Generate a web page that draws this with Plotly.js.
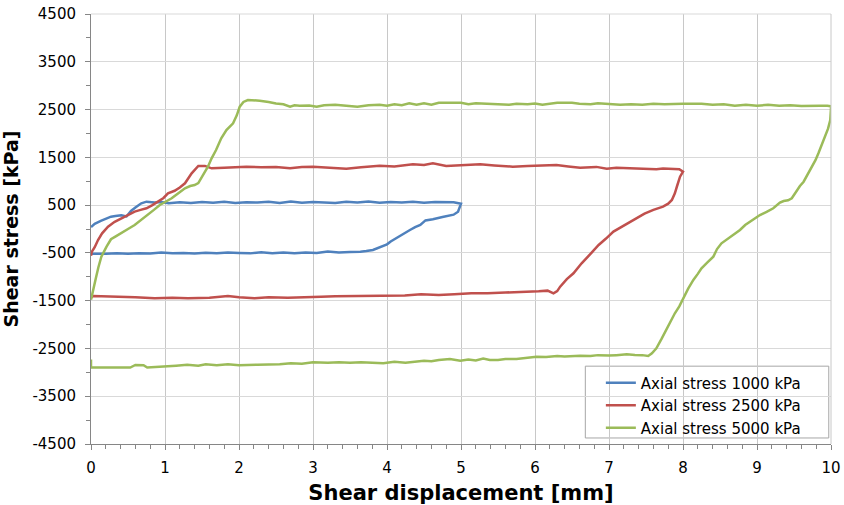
<!DOCTYPE html>
<html>
<head>
<meta charset="utf-8">
<script src="https://cdn.plot.ly/plotly-3.0.1.min.js"></script>
<style>html,body{margin:0;padding:0;background:#fff;}#chart{width:844px;height:505px;}</style>
</head>
<body>
<div id="chart"></div>
<script>
// ---- Data ----
const seriesNames = ["Axial stress 1000 kPa", "Axial stress 2500 kPa", "Axial stress 5000 kPa"];

const blueX = [0, 0.05, 0.14, 0.2, 0.27, 0.33, 0.41, 0.48, 0.54, 0.6, 0.68, 0.75, 0.86, 0.95, 1.05, 1.2, 1.35, 1.5, 1.65, 1.8, 1.95, 2.1, 2.25, 2.4, 2.55, 2.7, 2.85, 3.0, 3.15, 3.3, 3.45, 3.6, 3.75, 3.9, 4.05, 4.2, 4.35, 4.5, 4.65, 4.8, 4.9, 5.0,
  5.0, 4.96, 4.9, 4.85, 4.75, 4.62, 4.52, 4.45, 4.38, 4.31, 4.22, 4.13, 4.05, 4.0, 3.9, 3.81, 3.72, 3.64, 3.5, 3.35, 3.2, 3.05, 2.9, 2.75, 2.6, 2.45, 2.3, 2.15, 2.0, 1.85, 1.7, 1.55, 1.4, 1.25, 1.1, 0.95, 0.8, 0.65, 0.5, 0.35, 0.2, 0.05, 0];
const blueY = [40, 110, 174, 220, 258, 270, 286, 262, 377, 450, 537, 572, 555, 565, 540, 560, 545, 565, 550, 570, 545, 560, 555, 570, 545, 575, 550, 565, 560, 545, 570, 555, 575, 550, 565, 555, 570, 550, 565, 555, 560, 530,
  530, 363, 300, 279, 250, 203, 180, 84, 40, -21, -100, -194, -260, -320, -390, -440, -460, -475, -480, -490, -470, -500, -490, -510, -490, -505, -485, -510, -500, -490, -510, -495, -515, -500, -510, -490, -515, -505, -520, -505, -520, -515, -520];

const redX = [0, 0.01, 0.05, 0.095, 0.15, 0.23, 0.32, 0.41, 0.5, 0.59, 0.67, 0.75, 0.83, 0.91, 0.98, 1.04, 1.13, 1.2, 1.27, 1.36, 1.45, 1.54, 1.63, 1.8, 1.95, 2.1, 2.3, 2.5, 2.69, 2.85, 3.0, 3.2, 3.45, 3.65, 3.9, 4.1, 4.35, 4.5, 4.62, 4.8, 5.0, 5.26, 5.45, 5.7, 5.9, 6.16, 6.29, 6.45, 6.61, 6.83, 6.97, 7.1, 7.28, 7.45, 7.64, 7.73, 7.87, 7.95, 8.0,
  7.96, 7.92, 7.89, 7.85, 7.8, 7.73, 7.6, 7.48, 7.37, 7.25, 7.15, 7.06, 6.96, 6.86, 6.75, 6.63, 6.52, 6.43, 6.34, 6.3, 6.25, 6.17, 6.05, 5.81, 5.6, 5.36, 5.14, 4.91, 4.7, 4.46, 4.24, 3.92, 3.56, 3.3, 3.11, 2.9, 2.66, 2.4, 2.21, 2.0, 1.85, 1.6, 1.31, 1.1, 0.86, 0.6, 0.32, 0.15, 0.03, 0];
const redY = [-560, -480, -380, -230, -90, 50, 150, 224, 300, 363, 400, 433, 500, 572, 650, 747, 800, 870, 957, 1166, 1319, 1320, 1270, 1280, 1295, 1305, 1290, 1300, 1270, 1300, 1305, 1290, 1263, 1290, 1326, 1310, 1354, 1340, 1375, 1320, 1340, 1354, 1330, 1305, 1320, 1326, 1340, 1310, 1283, 1300, 1263, 1280, 1270, 1265, 1250, 1265, 1255, 1250, 1200,
  1095, 900, 747, 607, 530, 467, 400, 320, 224, 120, 15, -55, -200, -335, -520, -718, -927, -1050, -1207, -1300, -1346, -1290, -1305, -1312, -1330, -1346, -1346, -1367, -1380, -1367, -1390, -1395, -1395, -1410, -1416, -1425, -1440, -1430, -1450, -1430, -1400, -1440, -1450, -1440, -1450, -1430, -1416, -1420, -1400, -1437];

const greenX = [0, 0.03, 0.07, 0.1, 0.14, 0.21, 0.27, 0.34, 0.41, 0.5, 0.59, 0.68, 0.77, 0.85, 0.93, 1.01, 1.09, 1.18, 1.27, 1.34, 1.40, 1.45, 1.49, 1.53, 1.58, 1.63, 1.69, 1.76, 1.83, 1.92, 1.97, 2.01, 2.06, 2.12, 2.2, 2.28, 2.4, 2.5, 2.6, 2.69, 2.75, 2.82,
  2.95, 3.05, 3.15, 3.3, 3.45, 3.6, 3.75, 3.9, 4.0, 4.1, 4.2, 4.3, 4.4, 4.5, 4.6, 4.7, 4.85, 5.0, 5.1, 5.2, 5.35, 5.5, 5.65, 5.75, 5.9, 6.0, 6.1, 6.3, 6.5, 6.6, 6.75, 6.85, 7.0, 7.15, 7.3, 7.45, 7.6, 7.75, 8.0, 8.25, 8.4, 8.55, 8.7, 8.85, 9.0, 9.15, 9.3, 9.45, 9.6, 9.75, 9.85, 9.95, 10.0,
  10.0, 9.99, 9.96, 9.92, 9.88, 9.83, 9.79, 9.74, 9.68, 9.63, 9.58, 9.54, 9.47, 9.42, 9.36, 9.31, 9.22, 9.13, 9.04, 8.97, 8.91, 8.84, 8.77, 8.68, 8.6, 8.52, 8.46, 8.41, 8.33, 8.25, 8.2, 8.14, 8.07, 8.0, 7.95, 7.89, 7.83, 7.78, 7.71, 7.64, 7.58, 7.53,
  7.45, 7.35, 7.24, 7.1, 7.0, 6.85, 6.75, 6.61, 6.5, 6.4, 6.3, 6.15, 6.02, 5.9, 5.75, 5.6, 5.5, 5.39, 5.3, 5.2, 5.1, 4.99, 4.85, 4.7, 4.6, 4.5, 4.36, 4.25, 4.1, 3.95, 3.8, 3.65, 3.5, 3.35, 3.2, 3.0, 2.85, 2.7, 2.55, 2.4, 2.25, 2.0, 1.85, 1.7, 1.55, 1.45, 1.3, 1.15, 1.0, 0.88, 0.76, 0.71, 0.6, 0.53, 0.3, 0.1, 0, 0];
const greenY = [-1480, -1250, -1000, -800, -580, -370, -215, -150, -90, 0, 84, 190, 293, 400, 502, 572, 643, 750, 852, 900, 921, 960, 1061, 1150, 1305, 1480, 1654, 1900, 2072, 2212, 2380, 2560, 2660, 2700, 2700, 2685, 2660, 2625, 2610, 2560, 2590, 2580,
  2585, 2560, 2590, 2600, 2580, 2560, 2590, 2600, 2580, 2610, 2590, 2630, 2600, 2630, 2600, 2640, 2640, 2640, 2610, 2630, 2620, 2610, 2600, 2620, 2610, 2625, 2600, 2640, 2640, 2620, 2610, 2630, 2610, 2600, 2610, 2600, 2620, 2610, 2620, 2620, 2600, 2610, 2580, 2600, 2580, 2600, 2580, 2590, 2575, 2570, 2580, 2580, 2570,
  2526, 2280, 2100, 1932, 1760, 1584, 1440, 1305, 1140, 990, 900, 816, 643, 600, 586, 551, 433, 360, 293, 220, 153, 84, -21, -125, -210, -299, -420, -579, -700, -822, -940, -1067, -1250, -1486, -1620, -1764, -1950, -2114, -2300, -2497, -2600, -2658,
  -2640, -2637, -2623, -2640, -2650, -2640, -2660, -2651, -2665, -2670, -2660, -2680, -2672, -2700, -2720, -2720, -2740, -2742, -2710, -2750, -2730, -2756, -2720, -2740, -2770, -2760, -2777, -2800, -2780, -2811, -2800, -2790, -2800, -2790, -2800, -2790, -2820, -2810, -2830, -2830, -2840, -2850, -2830, -2850, -2830, -2860, -2840, -2860, -2870, -2880, -2900, -2850, -2845, -2900, -2900, -2900, -2900, -2730];

const yTickVals = [-4500, -3500, -2500, -1500, -500, 500, 1500, 2500, 3500, 4500];
const yTickText = ["-4500", "-3500", "-2500", "-1500", "-500", "500", "1500", "2500", "3500", "4500"];
const xTickVals = [0, 1, 2, 3, 4, 5, 6, 7, 8, 9, 10];
const xTickText = ["0", "1", "2", "3", "4", "5", "6", "7", "8", "9", "10"];

const colors = ["#4F81BD", "#C0504D", "#9BBB59"];

const mk = (x, y, i) => ({
  x: x, y: y, type: "scatter", mode: "lines", name: seriesNames[i],
  line: {color: colors[i], width: 2.5}, hoverinfo: "skip"
});

const data = [mk(blueX, blueY, 0), mk(redX, redY, 1), mk(greenX, greenY, 2)];

const font = "DejaVu Sans, Liberation Sans, Arial, sans-serif";

const layout = {
  width: 844, height: 505,
  margin: {l: 91, r: 13, t: 14, b: 61, pad: 0},
  paper_bgcolor: "#ffffff", plot_bgcolor: "#ffffff",
  showlegend: true,
  font: {family: font, size: 15, color: "#000000"},
  xaxis: {
    range: [0, 10], autorange: false,
    tickmode: "array", tickvals: xTickVals, ticktext: xTickText,
    ticks: "outside", ticklen: 5, tickcolor: "#868686", tickwidth: 1,
    showline: true, linecolor: "#868686", linewidth: 1,
    showgrid: true, gridcolor: "#c8c8c8", gridwidth: 1,
    zeroline: false,
    ticklabelstandoff: 5,
    tickfont: {family: font, size: 15, color: "#000"},
    minor: {dtick: 0.2, tick0: 0, ticks: "outside", ticklen: 4, tickcolor: "#868686", showgrid: false},
    title: {text: "Shear displacement [mm]", font: {family: font, size: 21, weight: "bold", color: "#000"}, standoff: 10},
    automargin: false
  },
  yaxis: {
    range: [-4500, 4500], autorange: false,
    tickmode: "array", tickvals: yTickVals, ticktext: yTickText,
    ticks: "outside", ticklen: 5, tickcolor: "#868686", tickwidth: 1,
    showline: true, linecolor: "#868686", linewidth: 1,
    showgrid: true, gridcolor: "#d9d9d9", gridwidth: 1,
    zeroline: false,
    ticklabelstandoff: 6,
    tickfont: {family: font, size: 15, color: "#000"},
    minor: {dtick: 500, tick0: -4500, ticks: "outside", ticklen: 4, tickcolor: "#868686", showgrid: false},
    title: {text: "Shear stress [kPa]", font: {family: font, size: 19, weight: "bold", color: "#000"}, standoff: 10},
    automargin: false
  },
  legend: {
    x: 0.689, y: 0.18, xanchor: "left", yanchor: "top",
    bgcolor: "rgba(0,0,0,0)", borderwidth: 0,
    font: {family: font, size: 15, color: "#000"},
    tracegroupgap: 0
  },
  shapes: [
    {type: "rect", xref: "paper", yref: "paper", x0: 0.668, x1: 0.997, y0: 0.014, y1: 0.181,
     fillcolor: "#ffffff", line: {color: "#a6a6a6", width: 1}, layer: "below"},
    {type: "line", xref: "paper", yref: "paper", x0: 0, x1: 1, y0: 1, y1: 1, line: {color: "#d9d9d9", width: 1}},
    {type: "line", xref: "paper", yref: "paper", x0: 1, x1: 1, y0: 0, y1: 1, line: {color: "#c8c8c8", width: 1}}
  ]
};

Plotly.newPlot("chart", data, layout, {displayModeBar: false, staticPlot: true});
</script>
</body>
</html>
